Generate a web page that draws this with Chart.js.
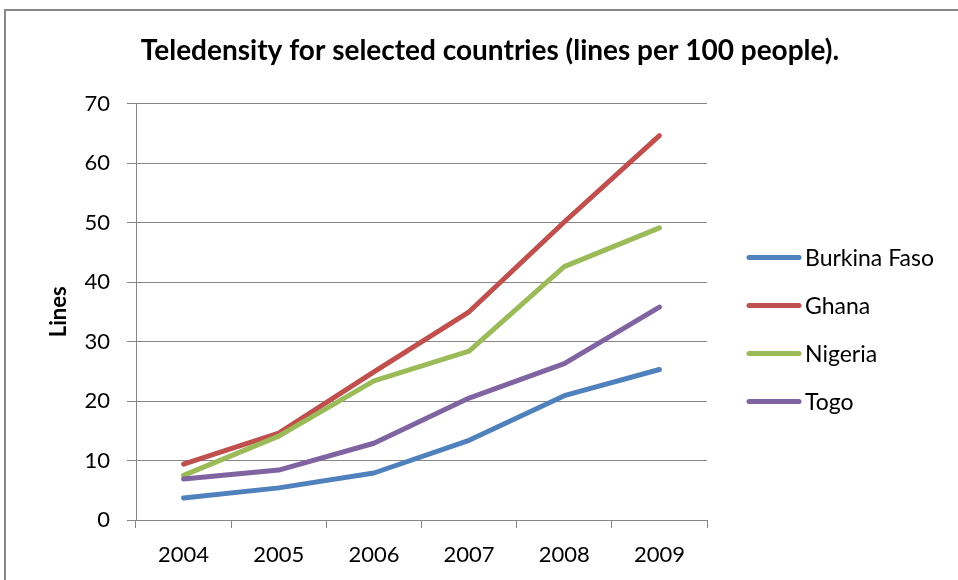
<!DOCTYPE html>
<html>
<head>
<meta charset="utf-8">
<title>Teledensity</title>
<script src="https://cdn.jsdelivr.net/npm/chart.js@4.4.1/dist/chart.umd.min.js"></script>
<style>
    html, body { margin: 0; padding: 0; background: #fff; overflow: hidden; }
    #wrap { position: relative; width: 958px; height: 580px; }
    #frame {
        position: absolute; left: 4px; top: 9px; width: 1000px; height: 1000px;
        border: 2px solid #898989; pointer-events: none;
    }
    canvas { position: absolute; left: 0; top: 0; }
</style>
</head>
<body>
<div id="wrap">
    <canvas id="teledensity" width="958" height="580"></canvas>
    <div id="frame"></div>
</div>
<script>
// Lines per 100 people, 2004-2009
const years = ['2004', '2005', '2006', '2007', '2008', '2009'];
const burkinaFaso = [3.7, 5.4, 7.9, 13.4, 20.9, 25.3];
const ghana = [9.4, 14.6, 24.9, 35.0, 50.1, 64.6];
const nigeria = [7.5, 14.1, 23.4, 28.4, 42.6, 49.1];
const togo = [6.9, 8.4, 12.9, 20.5, 26.3, 35.8];

const seriesNames = ['Burkina Faso', 'Ghana', 'Nigeria', 'Togo'];
const seriesData = [burkinaFaso, ghana, nigeria, togo];
const colors = ['#4F81BD', '#C0504D', '#9BBB59', '#8064A2'];

const FONT = 'Lato';
const GRID = '#868686';

// legend drawn as short round-capped strokes to the right of the plot
const lineLegend = {
    id: 'lineLegend',
    afterDraw(chart) {
        const { ctx, chartArea } = chart;
        const x0 = chartArea.right + 42;
        const x1 = chartArea.right + 92;
        let y = chartArea.top + 154;
        ctx.save();
        ctx.font = `23px ${FONT}`;
        ctx.textBaseline = 'middle';
        ctx.textAlign = 'left';
        chart.data.datasets.forEach(ds => {
            ctx.strokeStyle = ds.borderColor;
            ctx.lineWidth = 5;
            ctx.lineCap = 'round';
            ctx.beginPath();
            ctx.moveTo(x0, y);
            ctx.lineTo(x1, y);
            ctx.stroke();
            ctx.fillStyle = '#000';
            ctx.fillText(ds.label, x1 + 6, y + 1);
            y += 48;
        });
        ctx.restore();
    }
};

const ctx = document.getElementById('teledensity').getContext('2d');

new Chart(ctx, {
    type: 'line',
    data: {
        labels: years,
        datasets: seriesNames.map((name, i) => ({
            label: name,
            data: seriesData[i],
            borderColor: colors[i],
            backgroundColor: colors[i],
            borderWidth: 5,
            borderCapStyle: 'round',
            borderJoinStyle: 'round',
            pointRadius: 0,
            tension: 0,
            order: seriesNames.length - i
        }))
    },
    options: {
        responsive: false,
        animation: false,
        layout: {
            padding: { left: 22, right: 0, top: 0, bottom: 0 }
        },
        plugins: {
            legend: { display: false },
            tooltip: { enabled: false },
            title: {
                display: true,
                text: 'Teledensity for selected countries (lines per 100 people).',
                color: '#000',
                font: { family: FONT, size: 28, weight: 'bold' },
                padding: { top: 34, bottom: 36 }
            }
        },
        scales: {
            x: {
                offset: true,
                grid: {
                    offset: true,
                    drawOnChartArea: false,
                    drawTicks: true,
                    tickLength: 8,
                    color: GRID
                },
                border: { color: GRID, width: 1 },
                ticks: {
                    color: '#000',
                    padding: 14,
                    font: { family: FONT, size: 22 }
                },
                afterFit: scale => { scale.height = 60; }
            },
            y: {
                min: 0,
                max: 70,
                grid: {
                    color: GRID,
                    tickLength: 9
                },
                border: { color: GRID, width: 1 },
                ticks: {
                    stepSize: 10,
                    color: '#000',
                    padding: 17,
                    font: { family: FONT, size: 22 }
                },
                title: {
                    display: true,
                    text: 'Lines',
                    color: '#000',
                    font: { family: FONT, size: 22, weight: 'bold' },
                    padding: { top: 24, bottom: 0 }
                },
                afterFit: scale => { scale.width = 114; }
            },
            legendSpace: {
                type: 'linear',
                position: 'right',
                grid: { display: false },
                border: { display: false },
                ticks: { display: false },
                afterFit: scale => { scale.width = 251; }
            }
        }
    },
    plugins: [lineLegend]
});
</script>
</body>
</html>
